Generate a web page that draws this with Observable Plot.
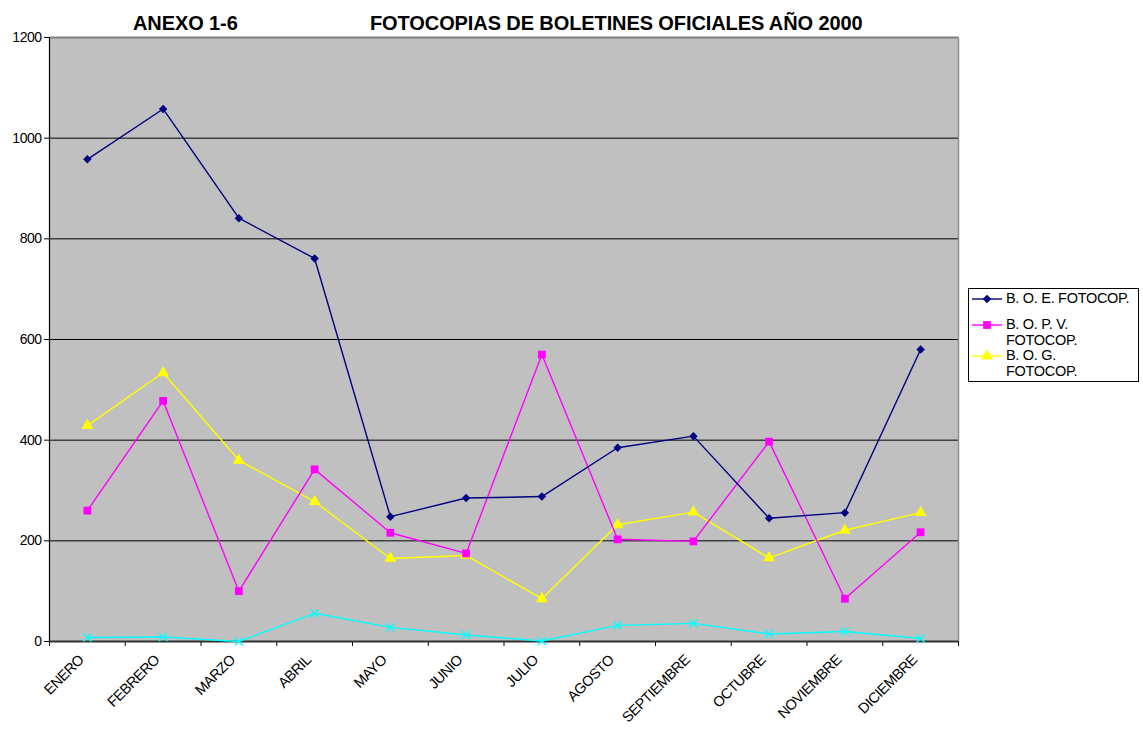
<!DOCTYPE html>
<html>
<head>
<meta charset="utf-8">
<script src="https://cdn.jsdelivr.net/npm/d3@7"></script>
<script src="https://cdn.jsdelivr.net/npm/@observablehq/plot@0.6"></script>
<style>
  html, body { margin: 0; padding: 0; background: white; }
  #wrap { position: relative; width: 1143px; height: 729px; font-family: "Liberation Sans", Arial, sans-serif; }
  .title { position: absolute; top: 13px; font-weight: bold; font-size: 20px; line-height: 20px; letter-spacing: -0.1px; color: black; white-space: nowrap; }
  #legend { position: absolute; left: 968px; top: 288px; width: 171px; height: 94px; border: 1px solid black; background: white; box-sizing: border-box; font-size: 14.5px; letter-spacing: -0.3px; }
  .li { position: absolute; left: 3px; display: flex; align-items: flex-start; }
  .li svg { flex: none; margin-top: 1px; }
  .li span { margin-left: 4px; line-height: 15.5px; }
</style>
</head>
<body>
<div id="wrap">
  <div class="title" style="left:133px">ANEXO 1-6</div>
  <div class="title" style="left:370px">FOTOCOPIAS DE BOLETINES OFICIALES AÑO 2000</div>
  <div id="chart"></div>
  <div id="legend"></div>
</div>
<script>
const months = ["ENERO","FEBRERO","MARZO","ABRIL","MAYO","JUNIO","JULIO","AGOSTO","SEPTIEMBRE","OCTUBRE","NOVIEMBRE","DICIEMBRE"];
const seriesNames = ["B. O. E. FOTOCOP.", "B. O. P. V. FOTOCOP.", "B. O. G. FOTOCOP.", "SERIE 4"];
const boe  = [958, 1058, 841, 761, 248, 285, 288, 385, 408, 245, 256, 580];
const bopv = [260, 478, 100, 342, 216, 175, 570, 203, 199, 397, 85, 217];
const bog  = [429, 534, 360, 278, 165, 171, 85, 232, 257, 166, 221, 256];
const s4   = [8, 9, 0, 56, 28, 13, 1, 32, 36, 15, 20, 6];
const yTicks = [0, 200, 400, 600, 800, 1000, 1200];

const colors = ["#000080", "#ff00ff", "#ffff00", "#00ffff"];
const symbols = ["square", "square", "triangle", "times"];
const rotations = [45, 0, 0, 0];
const sizes = [3.4, 4.4, 4.4, 3.8];
const allValues = [boe, bopv, bog, s4];

const rows = [];
allValues.forEach((vals, s) => vals.forEach((v, i) => rows.push({serie: seriesNames[s], s, i: i + 0.5, month: months[i], value: v})));

const bounds = d3.range(0, months.length + 1);
const centers = months.map((m, i) => i + 0.5);

const marks = [
  Plot.frame({fill: "#c0c0c0"}),
  Plot.ruleY(yTicks.filter(d => d > 0 && d < 1200), {stroke: "black", strokeWidth: 1}),
  Plot.ruleY([1200], {stroke: "#808080", strokeWidth: 2}),
  Plot.ruleX([months.length], {stroke: "#909090", strokeWidth: 1.5}),
  Plot.axisY({ticks: yTicks, tickSize: 5, tickPadding: 3, fontSize: 14, label: null, tickFormat: d => String(d), stroke: "black", strokeOpacity: 1}),
  Plot.axisX({ticks: bounds, tickSize: 5, label: null, tickFormat: () => "", stroke: "black", strokeOpacity: 1}),
  Plot.axisX({ticks: centers, tickSize: 0, tickPadding: 16, dx: -6, tickRotate: -45, fontSize: 14.5, label: null, tickFormat: d => months[Math.round(d - 0.5)]}),
  Plot.ruleX([0], {stroke: "black", strokeWidth: 1.2}),
  Plot.ruleY([0], {stroke: "#303030", strokeWidth: 2})
];
for (let s = 3; s >= 0; s--) {
  const data = rows.filter(r => r.s === s);
  marks.push(Plot.line(data, {x: "i", y: "value", stroke: colors[s], strokeWidth: 1.4}));
  if (symbols[s] === "times") {
    marks.push(Plot.dot(data, {x: "i", y: "value", symbol: "times", r: sizes[s], stroke: colors[s], strokeWidth: 1.4}));
  } else {
    marks.push(Plot.dot(data, {x: "i", y: "value", symbol: symbols[s], rotate: rotations[s], r: sizes[s], fill: colors[s], stroke: "none"}));
  }
}

const chart = Plot.plot({
  width: 1143,
  height: 729,
  marginLeft: 49,
  marginRight: 185,
  marginTop: 37,
  marginBottom: 88,
  x: {type: "linear", domain: [0, months.length], axis: null},
  y: {domain: [0, 1200], axis: null},
  style: {fontFamily: "'Liberation Sans', Arial, sans-serif", fontSize: "14px", background: "white", color: "black", letterSpacing: "-0.5px"},
  marks
});
document.getElementById("chart").appendChild(chart);

// Legend (first three series, as in the reference)
const legendLines = [["B. O. E. FOTOCOP."], ["B. O. P. V.", "FOTOCOP."], ["B. O. G.", "FOTOCOP."]];
const legendTops = [2, 28, 59];
const leg = document.getElementById("legend");
legendLines.forEach((lines, s) => {
  const item = document.createElement("div");
  item.className = "li";
  item.style.top = legendTops[s] + "px";
  const sym = d3.create("svg").attr("width", 30).attr("height", 14);
  sym.append("line").attr("x1", 0).attr("x2", 30).attr("y1", 7).attr("y2", 7).attr("stroke", colors[s]).attr("stroke-width", 1.4);
  const symType = {square: d3.symbolSquare, triangle: d3.symbolTriangle}[symbols[s]];
  sym.append("path").attr("transform", `translate(15,7) rotate(${rotations[s]})`).attr("d", d3.symbol(symType, Math.PI * sizes[s] * sizes[s])()).attr("fill", colors[s]);
  item.appendChild(sym.node());
  const span = document.createElement("span");
  span.innerHTML = lines.join("<br>");
  item.appendChild(span);
  leg.appendChild(item);
});
</script>
</body>
</html>
